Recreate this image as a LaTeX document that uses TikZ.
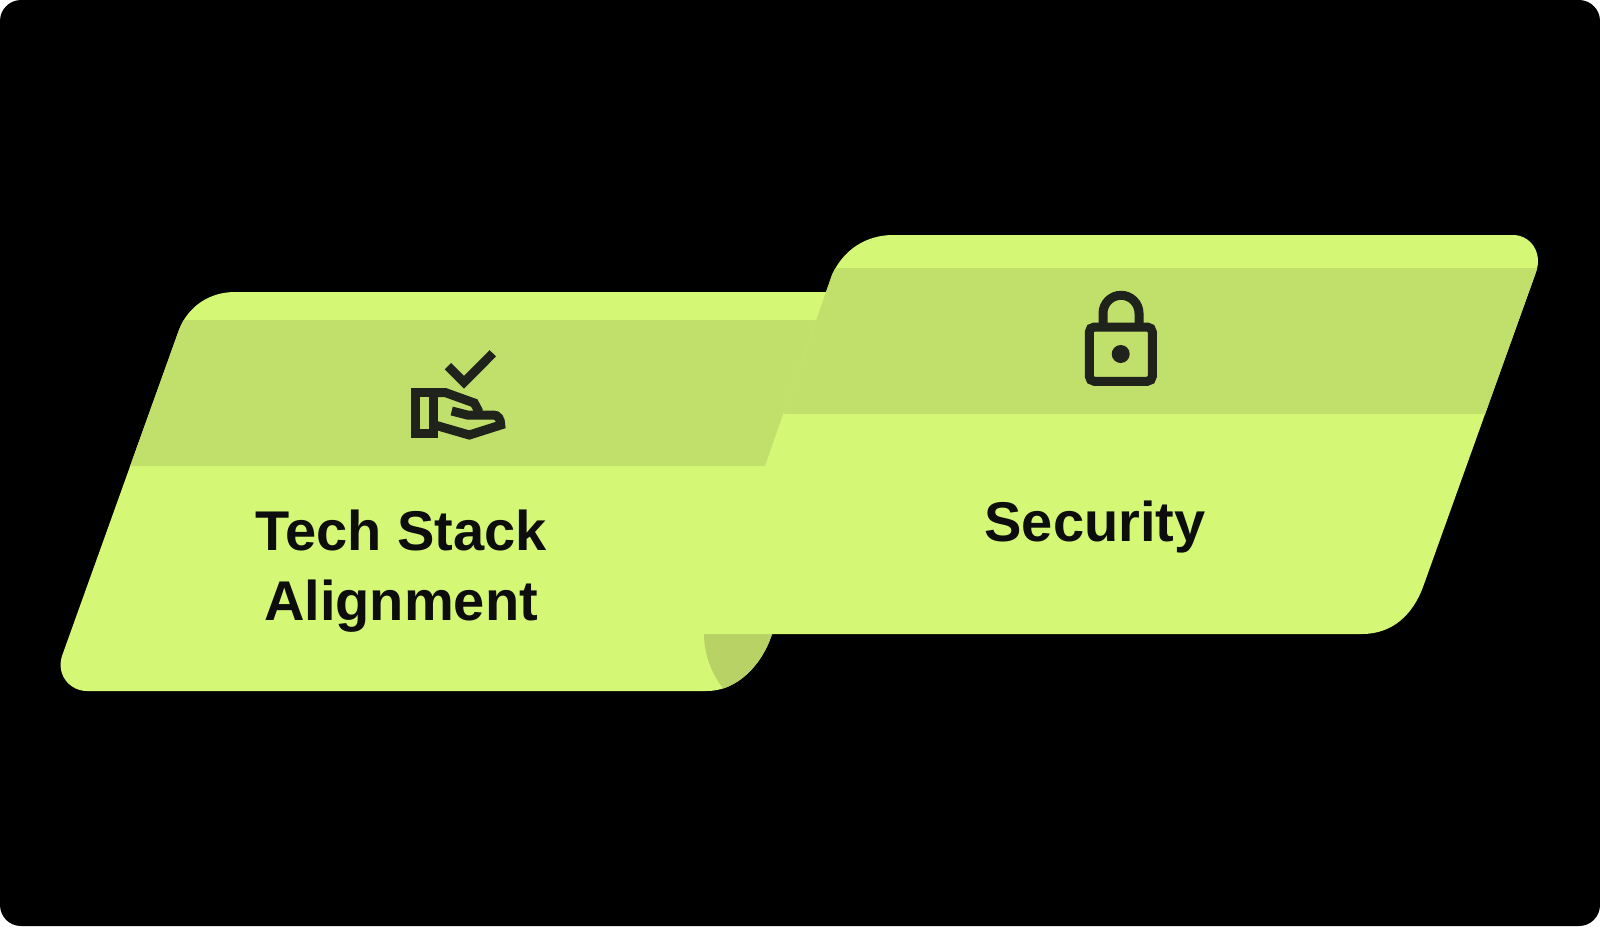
\documentclass[tikz,border=0pt]{standalone}
\usepackage{fontspec}
\setmainfont{Liberation Sans}
\definecolor{lime}{HTML}{D4F876}
\definecolor{limedark}{HTML}{C0DF6B}
\definecolor{limefold}{HTML}{B8D266}
\definecolor{ink}{HTML}{20221C}
\tikzset{
  label text/.style={font=\bfseries\fontsize{56}{69}\selectfont, text=black!95, align=center, inner sep=0pt, anchor=base},
  icon line/.style={draw=ink, line width=9pt, line join=miter, miter limit=10},
}
\begin{document}
\begin{tikzpicture}[x=1pt,y=-1pt]
\useasboundingbox (0,0) rectangle (1600,926);
\fill[white] (0,0) rectangle (1600,926);
\fill[black, rounded corners=21pt] (0,0) rectangle (1600,926);
% left panel
\def\leftpanel{(235,292) -- (840,292) -- (772,634) .. controls (762,665) and (737,691) .. (707,691) -- (87,691) .. controls (70,691) and (56,675) .. (62,656) -- (179,330) .. controls (188,306) and (210,292) .. (235,292) -- cycle}
\fill[lime] \leftpanel;
\begin{scope}
\clip \leftpanel;
\fill[limedark] (100,320) rectangle (900,466);
\fill[limefold] (704,634) .. controls (704,655) and (712,675) .. (725,691) -- (790,691) -- (790,634) -- cycle;
\end{scope}
% right panel
\def\rightpanel{(893,235) -- (1513,235) .. controls (1530,235) and (1543,252) .. (1536,272) -- (1423,587) .. controls (1413,614) and (1393,634) .. (1362,634) -- (690,634) -- (690,500) -- (765,466) -- (832,275) .. controls (843,250) and (866,235) .. (893,235) -- cycle}
\fill[lime] \rightpanel;
\begin{scope}
\clip \rightpanel;
\fill[limedark] (760,268) rectangle (1560,414);
\end{scope}
% hand icon
\draw[icon line] (415,392.7) rectangle (433,433.7);
\draw[icon line] (448,366.2) -- (464,382.2) -- (492.8,353.3);
\draw[icon line] (433,392.7) -- (445.7,392.7) -- (474.3,403) -- (478,410) -- (478,415);
\draw[icon line] (451.7,411) -- (467.3,415) -- (493.3,415) .. controls (498,415) and (500.7,419) .. (500.7,425) -- (469.3,435) -- (433,424.5);
% lock icon
\draw[icon line, rounded corners=5pt] (1089.3,327) rectangle (1152.3,381.3);
\draw[icon line] (1103,327) -- (1103,313.3) arc[start angle=180, end angle=360, radius=18pt, y radius=-18pt] -- (1139,327);
\fill[ink] (1120.7,354) circle[radius=9pt];
% labels
\node[label text] (tech) at (401,550) {Tech Stack};
\node[label text] (align) at (401,620) {Alignment};
\node[label text] (sec) at (1095,541) {Security};
\end{tikzpicture}
\end{document}
